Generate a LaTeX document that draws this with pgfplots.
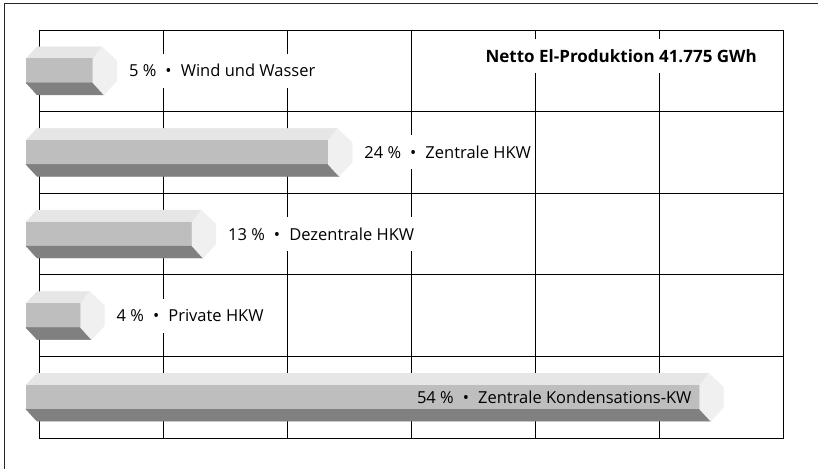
\documentclass[border=0pt]{standalone}
\usepackage{pgfplots}
\usepackage{pgfplotstable}
\pgfplotsset{compat=1.18}
\usepackage{fontspec}
\setmainfont{Open Sans}
\definecolor{topc}{HTML}{E6E6E6}
\definecolor{frontc}{HTML}{BEBEBE}
\definecolor{botc}{HTML}{808080}
\definecolor{capc}{HTML}{F0F0F0}
\tikzset{lab/.style={font=\fontsize{16.5}{19}\selectfont, text=black, inner xsep=3pt, inner ysep=0pt, minimum height=34pt}}
\pgfdeclareplotmark{empty}{}
\newcommand{\prism}[1]{%
  \pgfkeys{/pgf/fpu=true}%
  \pgfmathparse{-(#1*12.3833+14)}%
  \pgfmathfloattofixed{\pgfmathresult}\let\Lx\pgfmathresult
  \pgfkeys{/pgf/fpu=false}%
  \pgfmathsetmacro\Lb{\Lx+11}%
  \fill[topc] (\Lx pt,12pt) -- (\Lb pt,24pt) -- (0pt,24pt) -- (-9pt,12pt) -- cycle;
  \fill[frontc] (\Lx pt,-12.2pt) rectangle (-9pt,12.2pt);
  \fill[botc] (\Lx pt,-12pt) -- (\Lb pt,-24pt) -- (2pt,-24pt) -- (-9pt,-12pt) -- cycle;
  \fill[capc] (-9pt,12pt) -- (0pt,24pt) -- (15pt,10pt) -- (15pt,-10pt) -- (2pt,-24pt) -- (-9pt,-12pt) -- cycle;
}
\pgfplotstableread[col sep=comma]{
row,value,label
1,5,Wind und Wasser
2,24,Zentrale HKW
3,13,Dezentrale HKW
4,4,Private HKW
5,54,Zentrale Kondensations-KW
}\data
\begin{document}
\begin{tikzpicture}
\begin{axis}[
  x=12.3833pt, y=81.6pt, y dir=reverse,
  xmin=0, xmax=60, ymin=0.5, ymax=5.5,
  xtick={10,20,...,50}, ytick={1.5,2.5,3.5,4.5},
  xticklabels={}, yticklabels={}, major tick length=0pt,
  xmajorgrids, ymajorgrids,
  grid style={black, line width=1pt},
  axis line style={black, line width=1pt},
  clip=false, axis on top=false, scale only axis,
  /pgf/number format/assume math mode=true,
]
\addplot[scatter, only marks, mark=empty,
  visualization depends on={x \as \val},
  scatter/@pre marker code/.code={\prism{\val}},
  scatter/@post marker code/.code={}]
  table[x=value, y=row] {\data};
\addplot[draw=none, mark=none,
  skip coords between index={4}{5},
  point meta=explicit symbolic,
  visualization depends on={x \as \val},
  nodes near coords={\pgfmathprintnumber{\val}~\%\hspace{0.55em}\textbullet\hspace{0.55em}\pgfplotspointmeta},
  every node near coord/.append style={lab, anchor=west, xshift=24pt, fill=white}]
  table[x=value, y=row, meta=label] {\data};
\addplot[draw=none, mark=none,
  skip coords between index={0}{4},
  point meta=explicit symbolic,
  visualization depends on={x \as \val},
  nodes near coords={\pgfmathprintnumber{\val}~\%\hspace{0.55em}\textbullet\hspace{0.55em}\pgfplotspointmeta},
  every node near coord/.append style={lab, anchor=east, xshift=-14pt}]
  table[x=value, y=row, meta=label] {\data};
\node[anchor=east, fill=white, inner xsep=3pt, inner ysep=0pt, minimum height=34pt,
  font=\fontsize{17}{20}\selectfont\bfseries]
  at ([xshift=-23pt, yshift=-26pt]axis cs:60,0.5) {Netto El-Produktion 41.775 GWh};
\coordinate (BL) at (axis cs:0,5.5);
\coordinate (TL) at (axis cs:0,0.5);
\coordinate (TR) at (axis cs:60,0.5);
\end{axis}
\draw[line width=1.2pt, black!85] ([shift={(-35.5pt,-31pt)}]BL) -- ([shift={(-35.5pt,26.5pt)}]TL) -- ([shift={(36pt,26.5pt)}]TR);
\pgfresetboundingbox
\path[use as bounding box] ([shift={(-40pt,-30pt)}]BL) rectangle ([shift={(35pt,30pt)}]TR);
\end{tikzpicture}
\end{document}
